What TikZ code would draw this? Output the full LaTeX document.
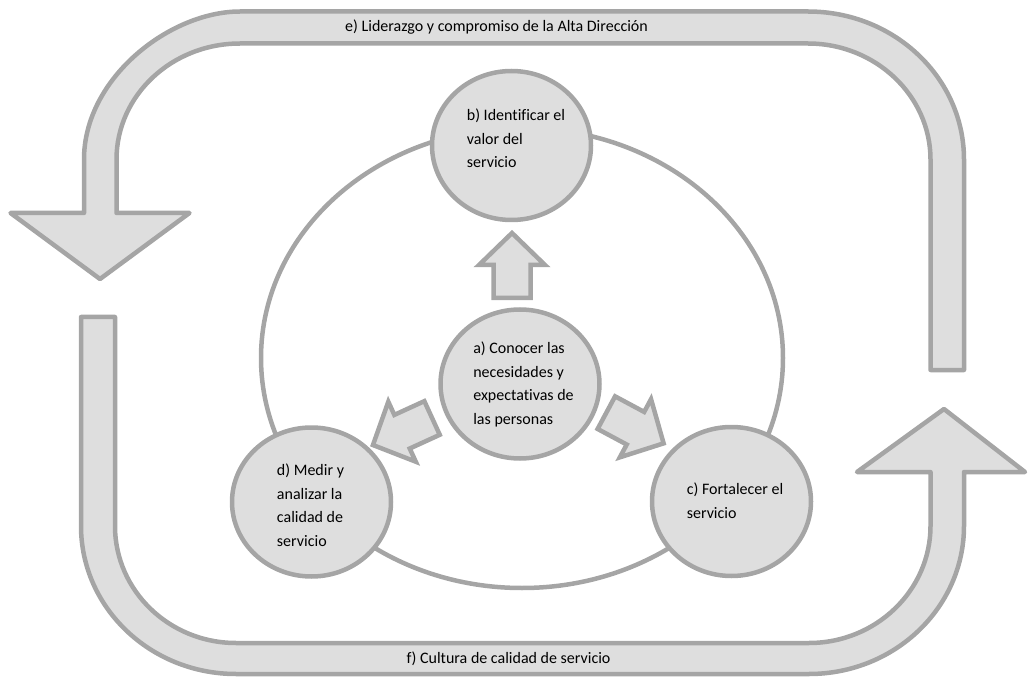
\documentclass[tikz,border=0pt]{standalone}
\usepackage{fontspec}
\setmainfont{Carlito}[Ligatures=CommonOff]
\usetikzlibrary{shapes.geometric}
\definecolor{edgegray}{HTML}{A5A5A5}
\definecolor{fillgray}{HTML}{DEDEDE}
\begin{document}
\begin{tikzpicture}[x=1pt,y=-1pt,
  band/.style={draw=edgegray, fill=fillgray, line width=4.5pt, line join=round},
  ringstyle/.style={ellipse, draw=edgegray, line width=4.5pt, inner sep=0pt},
  stage/.style={ellipse, draw=edgegray, fill=fillgray, line width=4.5pt, minimum width=159pt, minimum height=149pt, inner sep=0pt},
  lbl/.style={align=left, font=\fontsize{16}{23.5}\selectfont, inner sep=0pt, text=black},
  minarrow/.style={draw=edgegray, fill=fillgray, line width=4.5pt}
]
\useasboundingbox (0,0) rectangle (1029,679);

% large ring
\node[ringstyle, minimum width=522pt, minimum height=460pt] (ring) at (522,358) {};

% small block arrows
\foreach \cx/\cy/\ang in {512/265.5/90, 402.5/431.5/204.6, 635/428/-28.2}{
  \draw[minarrow, shift={(\cx,\cy)}, rotate=\ang]
    (-32.5pt,-18.5pt) -- (0.5pt,-18.5pt) -- (0.5pt,-33pt) -- (32.5pt,0pt)
    -- (0.5pt,33pt) -- (0.5pt,18.5pt) -- (-32.5pt,18.5pt) -- cycle;
}

% stages
\node[stage] (b) at (511.5,145.5) {};
\node[stage] (a) at (520,384) {};
\node[stage] (c) at (731.5,501.5) {};
\node[stage] (d) at (311.5,502) {};

\node[lbl] (bt) at (516,138.5) {b) Identificar el\\valor del\\servicio};
\node[lbl] (at) at (523.5,384.5) {a) Conocer las\\necesidades y\\expectativas de\\las personas};
\node[lbl] (ct) at (735,500.5) {c) Fortalecer el\\servicio};
\node[lbl] (dt) at (310.5,505) {d) Medir y\\analizar la\\calidad de\\servicio};

% top U-turn arrow
\draw[band] (930.5,370) -- (964,370) -- (964,159.5)
  .. controls (964,77.8) and (894.2,11.5) .. (808,11.5)
  -- (240,11.5)
  .. controls (170.2,11.5) and (84,77.8) .. (84,159.5)
  -- (84,213) -- (10.5,213) -- (100,279) -- (189.5,213) -- (116.5,213)
  -- (116.5,159.5)
  .. controls (116.5,95.4) and (171.8,43.5) .. (240,43.5)
  -- (808,43.5)
  .. controls (875.2,43.5) and (930.5,95.4) .. (930.5,159.5)
  -- cycle;

% bottom U-turn arrow
\draw[band] (81,317) -- (81,526)
  .. controls (81,607.7) and (150.4,674) .. (236,674)
  -- (809,674)
  .. controls (894.6,674) and (964,607.7) .. (964,526)
  -- (964,472) -- (1025,472) -- (944,409) -- (857,472) -- (930.5,472)
  -- (930.5,526)
  .. controls (930.5,590.6) and (875.8,643) .. (809,643)
  -- (236,643)
  .. controls (169.2,643) and (115,590.6) .. (115,526)
  -- (115,317) -- cycle;

\node[lbl] (et) at (496.5,27.5) {e) Liderazgo y compromiso de la Alta Dirección};
\node[lbl] (ft) at (508.5,659) {f) Cultura de calidad de servicio};
\end{tikzpicture}
\end{document}
